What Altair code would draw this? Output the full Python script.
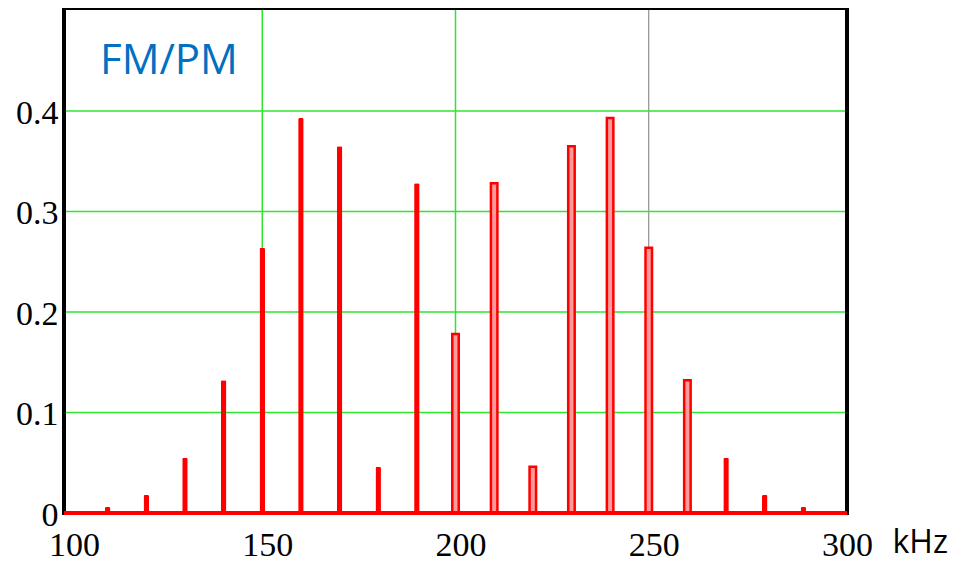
import altair as alt
import pandas as pd

# Spectrum lines (kHz) and amplitudes
freqs = [100, 110, 120, 130, 140, 150, 160, 170, 180, 190, 200,
         210, 220, 230, 240, 250, 260, 270, 280, 290, 300]
amps = [0.002, 0.006, 0.018, 0.055, 0.132, 0.264, 0.393, 0.365, 0.046, 0.328, 0.178,
        0.328, 0.046, 0.365, 0.393, 0.264, 0.132, 0.055, 0.018, 0.006, 0.002]
styles = ["solid"] * 10 + ["hollow"] * 7 + ["solid"] * 4

x_ticks = [100, 150, 200, 250, 300]
y_ticks = [0, 0.1, 0.2, 0.3, 0.4]
vgrid_green = [150, 200]
vgrid_gray = [250]
hgrid = [0.1, 0.2, 0.3, 0.4]

df = pd.DataFrame({"f": freqs, "a": amps, "s": styles})
solid = df[df.s == "solid"]
hollow = df[df.s == "hollow"]

W, H = 783, 505
xs = alt.Scale(domain=[100, 300], nice=False, zero=False)
ys = alt.Scale(domain=[0, 0.5025], nice=False)

serif = "Liberation Serif"
GREEN = "#2ee62e"

xaxis = alt.Axis(values=x_ticks, grid=False, ticks=False, domain=False,
                 labelFont=serif, labelFontSize=34, labelColor="black",
                 labelPadding=15, labelFlush=False, labelOverlap=False,
                 labelOffset=5,
                 title="kHz", titleFont="Open Sans", titleFontWeight="normal",
                 titleFontSize=32, titleColor="black", titleAngle=0,
                 titleAnchor="end", titleAlign="left", titleBaseline="alphabetic",
                 titleX=W + 45, titleY=39)
yaxis = alt.Axis(values=y_ticks, grid=False, ticks=False, domain=False,
                 labelFont=serif, labelFontSize=34, labelColor="black",
                 labelPadding=6, labelFlush=False, labelOverlap=False,
                 labelOffset=2,
                 format="~g", title=None)

vrules_g = alt.Chart(pd.DataFrame({"f": vgrid_green})).mark_rule(
    strokeWidth=1.5, color=GREEN).encode(x=alt.X("f:Q", scale=xs, axis=xaxis))
vrules_k = alt.Chart(pd.DataFrame({"f": vgrid_gray})).mark_rule(
    strokeWidth=1, color="#7a7a7a").encode(x=alt.X("f:Q", scale=xs, axis=xaxis))
hrules = alt.Chart(pd.DataFrame({"a": hgrid})).mark_rule(
    strokeWidth=1.5, color=GREEN).encode(y=alt.Y("a:Q", scale=ys, axis=yaxis))

bars_solid = alt.Chart(solid).mark_bar(width=5.5, color="#ff0000",
                                       cornerRadiusTopLeft=1.5,
                                       cornerRadiusTopRight=1.5).encode(
    x=alt.X("f:Q", scale=xs, axis=xaxis),
    y=alt.Y("a:Q", scale=ys, axis=yaxis),
)
bars_hollow = alt.Chart(hollow).mark_bar(width=6.5, fill="#ff9a9a", stroke="#ff0000",
                                         strokeWidth=2.5).encode(
    x=alt.X("f:Q", scale=xs, axis=xaxis),
    y=alt.Y("a:Q", scale=ys, axis=yaxis),
)

# plot frame drawn as an unfilled rectangle over the whole plot area
frame = alt.Chart(pd.DataFrame({"k": [0]})).mark_rect(
    fill=None, filled=False, stroke="#000000", strokeWidth=4, strokeOpacity=1).encode(
    x=alt.value(0), x2=alt.value(W), y=alt.value(0), y2=alt.value(H))

base = alt.Chart(pd.DataFrame({"a": [0]})).mark_rule(color="#ff0000", strokeWidth=4).encode(
    y=alt.Y("a:Q", scale=ys, axis=yaxis),
)
label = alt.Chart(pd.DataFrame({"t": ["FM/PM"]})).mark_text(
    font="Open Sans", fontSize=42, color="#0070c0", align="left", baseline="alphabetic"
).encode(text="t:N", x=alt.value(36), y=alt.value(66))

chart = alt.layer(vrules_g, vrules_k, hrules, bars_solid, bars_hollow,
                  frame, base, label).properties(
    width=W, height=H,
    background="white",
    autosize=alt.AutoSizeParams(type="none"),
    padding={"left": 56, "top": 0, "right": 110, "bottom": 48},
).configure(view=alt.ViewConfig(stroke="#000000", strokeWidth=3),
            axis=alt.AxisConfig(grid=False))

chart.save("out.html", embed_options={"renderer": "svg", "actions": False})
